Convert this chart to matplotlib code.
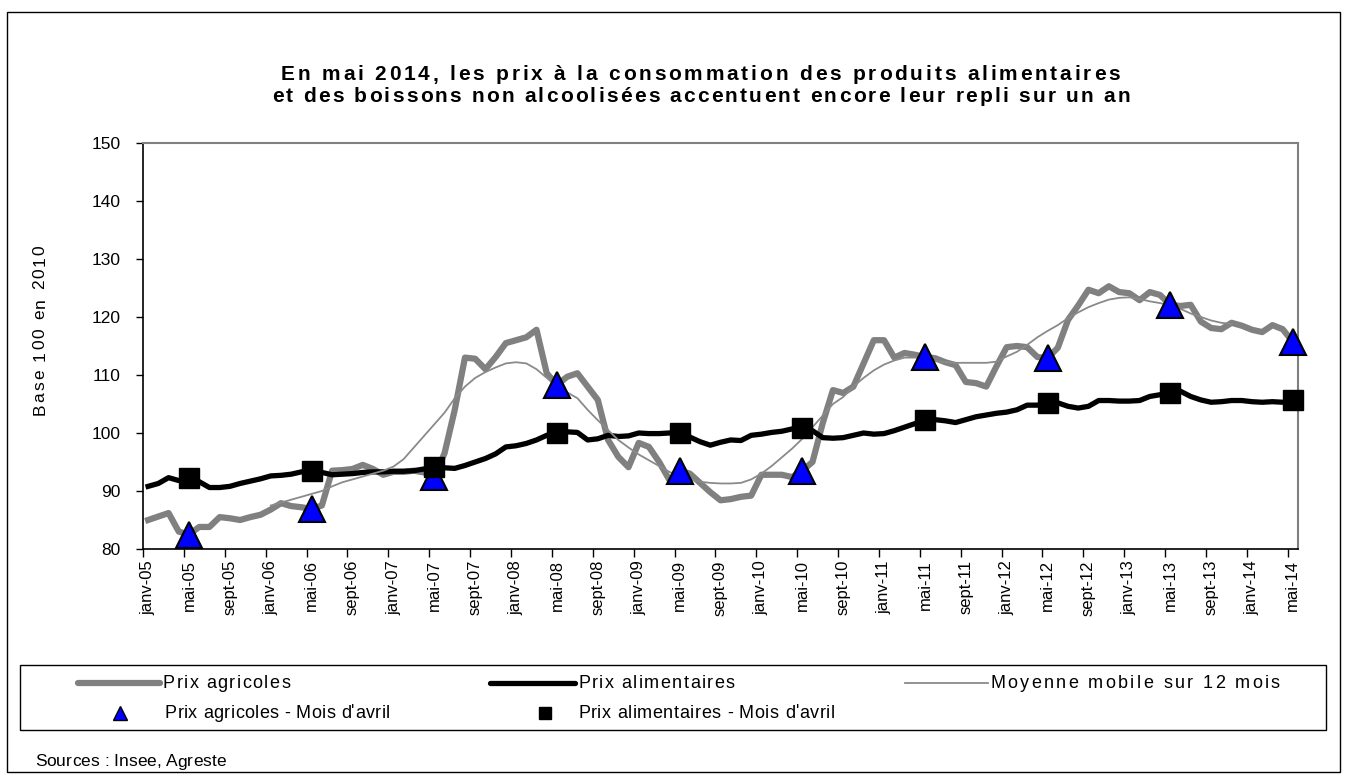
import matplotlib
matplotlib.use("Agg")
import matplotlib.pyplot as plt
from matplotlib.lines import Line2D
from matplotlib.patches import Rectangle
from matplotlib.font_manager import FontProperties
import numpy as np

plt.rcParams['font.family'] = ['Liberation Sans', 'DejaVu Sans']

# monthly series, janv-05 .. mai-14 (113 months)
mois = ["janv", "févr", "mars", "avr", "mai", "juin", "juil", "août", "sept", "oct", "nov", "déc"]
labels = []
for year in range(5, 15):
    for m in mois:
        labels.append(f"{m}-{year:02d}")
labels = labels[:113]

prix_agricoles = [
    85.0, 85.6, 86.2, 83.0, 82.5, 83.8, 83.8, 85.5, 85.3, 85.0, 85.5, 85.9,
    86.8, 87.9, 87.4, 87.2, 86.9, 87.5, 93.5, 93.6, 93.8, 94.5, 93.8, 92.8,
    93.3, 93.3, 93.5, 93.2, 92.5, 96.5, 104.0, 113.0, 112.8, 111.0, 113.1, 115.5,
    116.0, 116.5, 117.8, 110.3, 108.3, 109.7, 110.3, 108.0, 105.7, 98.8, 95.9, 94.1,
    98.3, 97.6, 95.0, 91.9, 93.5, 93.0, 91.4, 89.8, 88.4, 88.6, 89.0, 89.2,
    92.8, 92.8, 92.8, 92.4, 93.5, 95.0, 101.7, 107.4, 106.9, 108.0, 112.0, 116.0,
    116.0, 113.0, 113.8, 113.5, 113.1, 112.9, 112.2, 111.7, 108.8, 108.6, 108.0, 111.5,
    114.8, 115.0, 114.8, 113.1, 112.9, 114.7, 119.5, 122.0, 124.7, 124.1, 125.3, 124.3,
    124.1, 122.9, 124.3, 123.8, 122.1, 121.9, 122.1, 119.2, 118.1, 117.9, 119.0, 118.5,
    117.8, 117.4, 118.6, 117.9, 115.7,
]

prix_alimentaires = [
    90.8, 91.3, 92.3, 91.8, 92.3, 91.6, 90.6, 90.6, 90.8, 91.3, 91.7, 92.1,
    92.6, 92.7, 92.9, 93.3, 93.5, 93.2, 92.8, 92.9, 93.0, 93.2, 93.3, 93.3,
    93.4, 93.4, 93.5, 93.8, 94.2, 94.0, 93.9, 94.4, 95.0, 95.6, 96.4, 97.6,
    97.8, 98.2, 98.8, 99.6, 100.0, 100.2, 100.1, 98.8, 99.0, 99.6, 99.4, 99.5,
    100.0, 99.9, 99.9, 100.0, 100.0, 99.3, 98.5, 97.9, 98.4, 98.8, 98.7, 99.6,
    99.8, 100.1, 100.3, 100.7, 100.9, 100.4, 99.2, 99.1, 99.2, 99.6, 100.0, 99.8,
    99.9, 100.4, 101.0, 101.6, 102.2, 102.3, 102.1, 101.8, 102.3, 102.8, 103.1, 103.4,
    103.6, 104.0, 104.8, 104.8, 105.2, 105.2, 104.6, 104.3, 104.6, 105.6, 105.6, 105.5,
    105.5, 105.6, 106.3, 106.6, 106.9, 107.2, 106.3, 105.7, 105.3, 105.4, 105.6, 105.6,
    105.4, 105.3, 105.4, 105.3, 105.7,
]

# 12-month moving average as drawn, from janv-06 to nov-13
moyenne_debut = 12
moyenne_mobile = [
    87.5, 88.0, 88.5, 89.0, 89.5, 90.0, 90.8, 91.5, 92.0, 92.5, 93.0, 93.5,
    94.2, 95.5, 97.5, 99.5, 101.5, 103.5, 106.0, 108.0, 109.5, 110.5, 111.3, 112.0,
    112.2, 112.0, 111.0, 109.5, 108.0, 107.0, 106.0, 104.0, 102.2, 100.5, 98.8, 97.5,
    96.3, 95.3, 94.3, 93.3, 92.5, 92.0, 91.6, 91.4, 91.3, 91.3, 91.4, 92.0,
    93.0, 94.3, 95.8, 97.3, 99.0, 101.0, 103.0, 105.0, 106.2, 108.0, 109.5, 110.8,
    111.8, 112.5, 113.0, 113.0, 112.8, 112.4, 112.2, 112.1, 112.1, 112.1, 112.1, 112.3,
    113.2, 114.0, 115.2, 116.5, 117.6, 118.6, 119.8, 120.8, 121.7, 122.4, 123.0, 123.3,
    123.4, 123.1, 122.7, 122.4, 122.0, 121.4, 120.6, 120.0, 119.4, 119.0, 118.8,
]

x = np.arange(len(prix_agricoles))
x_mm = np.arange(moyenne_debut, moyenne_debut + len(moyenne_mobile))
avril = x[4::12]

W, H = 1348, 780
fig = plt.figure(figsize=(W / 100, H / 100), dpi=100)
ax = fig.add_axes([143 / W, 1 - 549 / H, 1155 / W, 406 / H])

ax.plot(x, prix_agricoles, color="#808080", lw=4.5, zorder=2)
ax.plot(x, prix_alimentaires, color="black", lw=3.8, zorder=3)
ax.plot(x_mm, moyenne_mobile, color="#8a8a8a", lw=1.3, zorder=4)
ax.plot(avril, np.array(prix_agricoles)[avril], ls="none", marker="^", ms=19,
        mfc="#0000FF", mec="black", mew=1.5, zorder=5, clip_on=False)
ax.plot(avril, np.array(prix_alimentaires)[avril], ls="none", marker="s", ms=15,
        mfc="black", mec="black", zorder=6, clip_on=False)

ax.set_xlim(-0.5, len(x) - 0.5)
ax.set_ylim(80, 150)
ax.set_yticks(range(80, 151, 10))
ax.tick_params(axis="y", labelsize=12.5, length=5, direction="out", width=1, pad=11)

pos = x[::4]
ax.set_xticks(pos - 0.5)
ax.set_xticklabels([])
ax.set_xticks(pos, minor=True)
ax.set_xticklabels([labels[i] for i in pos], minor=True, rotation=90)
ax.tick_params(axis="x", which="major", length=6, direction="out", width=1)
ax.tick_params(axis="x", which="minor", length=0, labelsize=12, pad=8)

for side in ["top", "right"]:
    ax.spines[side].set_color("#808080")
    ax.spines[side].set_linewidth(1.5)
for side in ["left", "bottom"]:
    ax.spines[side].set_color("black")
    ax.spines[side].set_linewidth(1.2)

renderer = fig.canvas.get_renderer()


def spaced_text(a, b, c, s, size, weight="normal", vertical=False):
    # spread the letters of s between pixel positions a and b (letter spacing)
    fp = FontProperties(family="Liberation Sans", size=size, weight=weight)
    widths = [renderer.get_text_width_height_descent(ch, fp, ismath=False)[0] for ch in s]
    gap = max(0.0, (abs(b - a) - sum(widths)) / (len(s) - 1))
    p = a
    for ch, w in zip(s, widths):
        if vertical:
            fig.text(c / W, 1 - p / H, ch, fontproperties=fp, rotation=90,
                     rotation_mode="anchor", ha="left", va="center")
            p -= w + gap
        else:
            fig.text(p / W, 1 - c / H, ch, fontproperties=fp, ha="left", va="center")
            p += w + gap


spaced_text(281, 1120, 75, "En mai 2014, les prix à la consommation des produits alimentaires",
            15, "bold")
spaced_text(272, 1130, 97, "et des boissons non alcoolisées accentuent encore leur repli sur un an",
            15, "bold")
spaced_text(415, 245, 40, "Base 100 en 2010", 12.5, vertical=True)

# outer frame
fig.add_artist(Rectangle((7 / W, 1 - 772 / H), 1333 / W, 760 / H, transform=fig.transFigure,
                         fill=False, ec="black", lw=1))

# legend box
fig.add_artist(Rectangle((20 / W, 1 - 730 / H), 1306 / W, 65 / H, transform=fig.transFigure,
                         fill=False, ec="black", lw=1))


def fx(px):
    return px / W


def fy(py):
    return 1 - py / H


r1, r2 = 683, 713
fig.add_artist(Line2D([fx(78), fx(160)], [fy(r1), fy(r1)], color="#808080", lw=4.5,
                      solid_capstyle="round"))
spaced_text(163, 290, r1, "Prix agricoles", 13)
fig.add_artist(Line2D([fx(490), fx(575)], [fy(r1), fy(r1)], color="black", lw=3.8,
                      solid_capstyle="round"))
spaced_text(578, 735, r1, "Prix alimentaires", 13)
fig.add_artist(Line2D([fx(905), fx(988)], [fy(r1), fy(r1)], color="#8a8a8a", lw=1.3))
spaced_text(990, 1280, r1, "Moyenne mobile sur 12 mois", 13)

fig.add_artist(Line2D([fx(120)], [fy(r2)], marker="^", ms=10, mfc="#0000FF", mec="black",
                      mew=1, ls="none"))
spaced_text(165, 390, r2, "Prix agricoles - Mois d'avril", 13)
fig.add_artist(Line2D([fx(545)], [fy(r2)], marker="s", ms=9, mfc="black", mec="black",
                      ls="none"))
spaced_text(578, 835, r2, "Prix alimentaires - Mois d'avril", 13)

spaced_text(35, 222, 762, "Sources : Insee, Agreste", 12.5)

fig.savefig("out.png", dpi=100)
